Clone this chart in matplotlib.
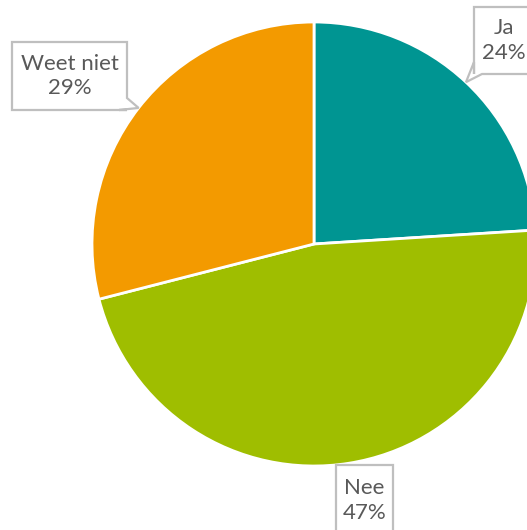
import matplotlib
matplotlib.use("Agg")
import numpy as np
from matplotlib import pyplot as plt
from matplotlib.patches import Polygon

labels = ["Ja", "Nee", "Weet niet"]
values = [24, 47, 29]
colors = ["#009592", "#9fbe00", "#f39a00"]

W, H = 527, 530

def callout(ax, x0, y0, x1, y1, text, tail=None):
    # box in pixel coords (y down); tail = (corner index, extra points) in y-down coords
    pts = [(x0, y0), (x1, y0), (x1, y1), (x0, y1)]
    if tail is not None:
        side, pts_tail = tail
        pts = pts[:side + 1] + pts_tail + pts[side + 1:]
    pts = [(x, H - y) for x, y in pts]
    ax.add_patch(Polygon(pts, closed=True, facecolor="white", edgecolor="#bfbfbf",
                         linewidth=1.6, zorder=5, clip_on=True))
    ax.text((x0 + x1) / 2, H - (y0 + y1) / 2, text, ha="center", va="center",
            multialignment="center", fontsize=16, color="#595959", linespacing=1.3,
            family=["Lato", "DejaVu Sans"], zorder=6)

fig = plt.figure(figsize=(W / 100, H / 100), dpi=100)
ax = fig.add_axes([0, 0, 1, 1])
cx, cy, r = 314, H - 244, 222
wedges, _ = ax.pie(values, colors=colors, startangle=90, counterclock=False,
                   center=(cx, cy), radius=r,
                   wedgeprops=dict(edgecolor="white", linewidth=2))
ax.set_xlim(0, W)
ax.set_ylim(0, H)
ax.set_aspect("equal")
ax.axis("off")

# tail tips on the pie edge at each slice's middle
frac = np.cumsum([0] + values) / sum(values)
tips = []
for i in range(len(values)):
    a = np.deg2rad(90 - 360 * (frac[i] + frac[i + 1]) / 2)
    tips.append((cx + r * np.cos(a), H - (cy + r * np.sin(a))))

callout(ax, 474, 7, 533, 74, "Ja\n24%",
        tail=(2, [(474 + 8, 74), tips[0], (474, 74 - 12)]))
callout(ax, 12, 42, 127, 110, "Weet niet\n29%",
        tail=(1, [(127, 110 - 12), tips[2], (127 - 8, 110)]))
callout(ax, 336, 465, 393, 536, "Nee\n47%")

fig.savefig("out.png", dpi=100)
